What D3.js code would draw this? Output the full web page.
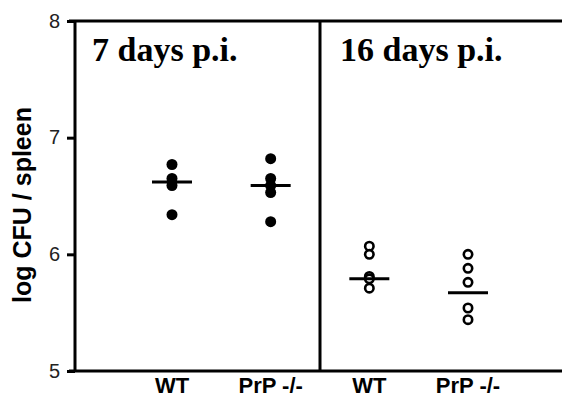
<!DOCTYPE html>
<html><head><meta charset="utf-8">
<script src="https://cdn.jsdelivr.net/npm/d3@7"></script>
<style>body{margin:0;background:#fff}svg{display:block}</style>
</head><body>
<script>
const groups = ["WT7", "PrP7", "WT16", "PrP16"];
const groupLabels = ["WT", "PrP -/-", "WT", "PrP -/-"];
const panelTitles = ["7 days p.i.", "16 days p.i."];
const yTicks = [5, 6, 7, 8];
const wt7 = [6.77, 6.65, 6.59, 6.34];
const prp7 = [6.82, 6.65, 6.59, 6.53, 6.28];
const wt16 = [6.07, 6.00, 5.81, 5.79, 5.71];
const prp16 = [6.00, 5.88, 5.76, 5.54, 5.44];
const means = [6.62, 6.59, 5.79, 5.67];
const filled = [true, true, false, false];
const values = [wt7, prp7, wt16, prp16];

const W = 562, H = 398;
const svg = d3.select("body").append("svg").attr("width", W).attr("height", H);

const y = d3.scaleLinear().domain([5, 8]).range([371, 21]);
const x = d3.scalePoint().domain(groups).range([172, 468]);
const left = 75, right = W, divider = 320;
const sans = "Liberation Sans, Arial, Helvetica, sans-serif";
const serif = "Liberation Serif, Times New Roman, serif";

// frame
const g = svg.append("g").attr("stroke", "#000").attr("stroke-width", 3).attr("fill", "none");
g.append("line").attr("x1", left - 6).attr("x2", right).attr("y1", y(8)).attr("y2", y(8));
g.append("line").attr("x1", left - 6).attr("x2", right).attr("y1", y(5)).attr("y2", y(5));
g.append("line").attr("x1", left).attr("x2", left).attr("y1", y(8)).attr("y2", y(5));
g.append("line").attr("x1", divider).attr("x2", divider).attr("y1", y(8)).attr("y2", y(5));

// y axis
const ax = svg.append("g").attr("transform", `translate(${left},0)`)
  .call(d3.axisLeft(y).tickValues(yTicks).tickFormat(d3.format("d")).tickSize(8).tickSizeOuter(0).tickPadding(7));
ax.select(".domain").remove();
ax.selectAll(".tick line").attr("stroke", "#000").attr("stroke-width", 3);
ax.selectAll(".tick text").attr("font-family", sans).attr("font-size", 20).attr("fill", "#222").attr("dy", "0.3em");

// y title
svg.append("text").attr("transform", `translate(31,${(y(5)+y(8))/2 + 9}) rotate(-90)`)
  .attr("text-anchor", "middle").attr("font-family", sans)
  .attr("font-weight", "bold").attr("font-size", 25).text("log CFU / spleen");

// x labels
svg.selectAll(".xl").data(groups).enter().append("text")
  .attr("x", d => x(d)).attr("y", 393).attr("text-anchor", "middle")
  .attr("font-family", sans).attr("font-weight", "bold").attr("font-size", 22)
  .text((d, i) => groupLabels[i]);

// panel titles
svg.append("text").attr("x", 92).attr("y", 61).attr("font-family", serif)
  .attr("font-weight", "bold").attr("font-size", 34).text(panelTitles[0]);
svg.append("text").attr("x", 340).attr("y", 61).attr("font-family", serif)
  .attr("font-weight", "bold").attr("font-size", 34).text(panelTitles[1]);

// points
groups.forEach((gr, i) => {
  const pts = svg.append("g");
  pts.selectAll("circle").data(values[i]).enter().append("circle")
    .attr("cx", x(gr)).attr("cy", d => y(d))
    .attr("r", filled[i] ? 5.5 : 4.2)
    .attr("fill", filled[i] ? "#000" : "#fff")
    .attr("stroke", "#000").attr("stroke-width", filled[i] ? 0 : 2.6);
  svg.append("line").attr("x1", x(gr) - 20).attr("x2", x(gr) + 20)
    .attr("y1", y(means[i])).attr("y2", y(means[i]))
    .attr("stroke", "#000").attr("stroke-width", 3);
});
</script>
</body></html>
